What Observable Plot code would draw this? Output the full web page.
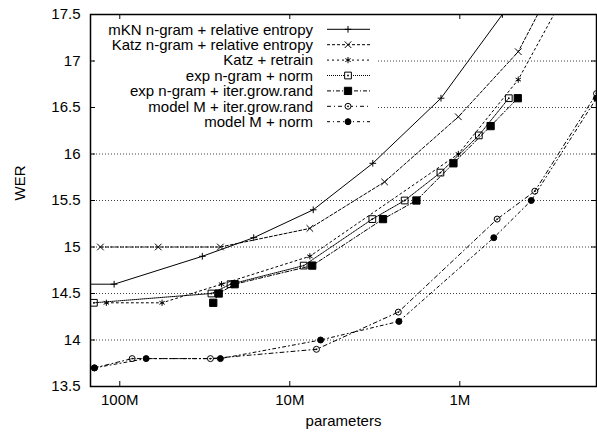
<!DOCTYPE html>
<html><head><meta charset="utf-8">
<script src="https://cdn.jsdelivr.net/npm/d3@7"></script>
<script src="https://cdn.jsdelivr.net/npm/@observablehq/plot@0.6"></script>
<style>
body{margin:0;background:#fff;}
#wrap{position:relative;width:597px;height:435px;font-family:"Liberation Sans",Arial,sans-serif;}
</style></head><body><div id="wrap"></div>
<script>
// ---- data ----
const yTicks = [13.5, 14, 14.5, 15, 15.5, 16, 16.5, 17, 17.5];
const xTicks = [1e8, 1e7, 1e6];
const xTickLabels = ["100M", "10M", "1M"];

const seriesNames = [
  "mKN n-gram + relative entropy",
  "Katz n-gram + relative entropy",
  "Katz + retrain",
  "exp n-gram + norm",
  "exp n-gram + iter.grow.rand",
  "model M + iter.grow.rand",
  "model M + norm"
];

const mknParams = [200e6, 108e6, 32.7e6, 16.3e6, 7.28e6, 3.25e6, 1.29e6, 562e3];
const mknWer    = [14.6, 14.6, 14.9, 15.1, 15.4, 15.9, 16.6, 17.5];

const katzParams = [130e6, 59.4e6, 25.6e6, 7.62e6, 2.77e6, 1.02e6, 453e3, 286e3];
const katzWer    = [15.0, 15.0, 15.0, 15.2, 15.7, 16.4, 17.1, 17.8];

const retrainParams = [120e6, 56.4e6, 25.2e6, 7.62e6, 1.02e6, 453e3, 261e3];
const retrainWer    = [14.4, 14.4, 14.6, 14.9, 16.0, 16.8, 17.6];

const expNormParams = [142e6, 28.9e6, 22.3e6, 8.28e6, 3.27e6, 2.11e6, 1.30e6, 773e3, 515e3];
const expNormWer    = [14.4, 14.5, 14.6, 14.8, 15.3, 15.5, 15.8, 16.2, 16.6];

const expIterParams = [28.2e6, 26.2e6, 21.1e6, 7.38e6, 2.83e6, 1.80e6, 1.09e6, 659e3, 456e3];
const expIterWer    = [14.4, 14.5, 14.6, 14.8, 15.3, 15.5, 15.9, 16.3, 16.6];

const mIterParams = [141e6, 84.6e6, 29.3e6, 6.97e6, 2.30e6, 603e3, 362e3, 157e3];
const mIterWer    = [13.7, 13.8, 13.8, 13.9, 14.3, 15.3, 15.6, 16.65];

const mNormParams = [141e6, 70e6, 25.6e6, 6.59e6, 2.28e6, 631e3, 380e3, 157e3];
const mNormWer    = [13.7, 13.8, 13.8, 14.0, 14.2, 15.1, 15.5, 16.6];

// ---- styles ----
const styles = [
  {dash: null,      symbol: "plus",     r: 2.3, fill: "none",  dot: false},
  {dash: "3,2",     symbol: "times",    r: 3.1, fill: "none",  dot: false},
  {dash: "2,3",     symbol: "asterisk", r: 2.9, fill: "none",  dot: false},
  {dash: "1,1",     symbol: "square",   r: 3.8, fill: "none",  dot: true},
  {dash: "4,2,1,2", symbol: "square",   r: 4.1, fill: "#000",  dot: false},
  {dash: "4,3,1,3", symbol: "circle",   r: 3.0, fill: "none",  dot: true},
  {dash: "3,3,1,3", symbol: "circle",   r: 3.0, fill: "#000",  dot: false}
];

const paramsList = [mknParams, katzParams, retrainParams, expNormParams, expIterParams, mIterParams, mNormParams];
const werList = [mknWer, katzWer, retrainWer, expNormWer, expIterWer, mIterWer, mNormWer];

const series = seriesNames.map((name, i) => ({
  name,
  ...styles[i],
  rows: paramsList[i].map((p, j) => ({params: p, wer: werList[i][j]}))
}));

const W = 597, H = 435;
const mL = 90, mR = 1, mT = 14, mB = 49;
const fw = W - mL - mR, fh = H - mT - mB;
const labelMap = new Map(xTicks.map((t, i) => [t, xTickLabels[i]]));

const marks = [
  Plot.ruleY(yTicks.slice(1, -1), {y: d => d, stroke: "#000", strokeWidth: 1, strokeDasharray: "1,2", strokeOpacity: 0.75})
];
series.forEach(s => {
  marks.push(Plot.line(s.rows, {x: "params", y: "wer", stroke: "#000", strokeWidth: 1, strokeDasharray: s.dash, clip: true}));
  marks.push(Plot.dot(s.rows, {x: "params", y: "wer", symbol: s.symbol, r: s.r, fill: s.fill, stroke: "#000", strokeWidth: 1, clip: true}));
  if (s.dot) marks.push(Plot.dot(s.rows, {x: "params", y: "wer", r: 0.9, fill: "#000", stroke: null, clip: true}));
});
marks.push(
  Plot.frame({stroke: "#000", strokeWidth: 1.5}),
  Plot.tickY(yTicks, {y: d => d, stroke: "#000", insetRight: fw - 5}),
  Plot.tickY(yTicks, {y: d => d, stroke: "#000", insetLeft: fw - 5}),
  Plot.tickX(xTicks, {x: d => d, stroke: "#000", insetBottom: fh - 5}),
  Plot.tickX(xTicks, {x: d => d, stroke: "#000", insetTop: fh - 5}),
  Plot.axisY(yTicks, {tickSize: 0, tickPadding: 10, label: null, tickFormat: d => String(d)}),
  Plot.axisX(xTicks, {tickSize: 0, tickPadding: 8, label: null, tickFormat: d => labelMap.get(d)}),
  Plot.text(["WER"], {text: d => d, frameAnchor: "left", dx: -70, rotate: -90}),
  Plot.text(["parameters"], {text: d => d, frameAnchor: "bottom", dy: 39})
);

const chart = Plot.plot({
  width: W, height: H,
  marginLeft: mL, marginRight: mR, marginTop: mT, marginBottom: mB,
  style: {fontSize: "15px", fontFamily: "'Liberation Sans', Arial, sans-serif", background: "#fff", color: "#000", overflow: "visible"},
  x: {type: "log", domain: [1.487e8, 1.57e5], axis: null},
  y: {domain: [13.5, 17.5], axis: null},
  marks
});
const wrap = document.getElementById("wrap");
wrap.appendChild(chart);

// ---- legend overlay (white key box) ----
const symMap = {plus: d3.symbolPlus, times: d3.symbolTimes, asterisk: d3.symbolAsterisk, square: d3.symbolSquare, circle: d3.symbolCircle};
const lg = d3.create("svg")
  .attr("width", 282).attr("height", 115)
  .style("position", "absolute").style("left", "96px").style("top", "20px")
  .style("background", "#fff")
  .style("font-family", "'Liberation Sans', Arial, sans-serif").style("font-size", "15px");
series.forEach((s, i) => {
  const y = 9.3 + i * 15.4;
  lg.append("text").attr("x", 217).attr("y", y).attr("dy", "0.35em").attr("text-anchor", "end").attr("fill", "#000").text(s.name);
  lg.append("line").attr("x1", 231).attr("x2", 274).attr("y1", y).attr("y2", y)
    .attr("stroke", "#000").attr("stroke-width", 1).attr("stroke-dasharray", s.dash);
  lg.append("path").attr("transform", `translate(252,${y})`)
    .attr("d", d3.symbol(symMap[s.symbol], Math.PI * s.r * s.r)())
    .attr("fill", s.fill === "none" ? "#fff" : s.fill).attr("stroke", "#000").attr("stroke-width", 1);
  if (s.dot) lg.append("circle").attr("cx", 252).attr("cy", y).attr("r", 0.9).attr("fill", "#000");
});
wrap.appendChild(lg.node());
</script></body></html>
